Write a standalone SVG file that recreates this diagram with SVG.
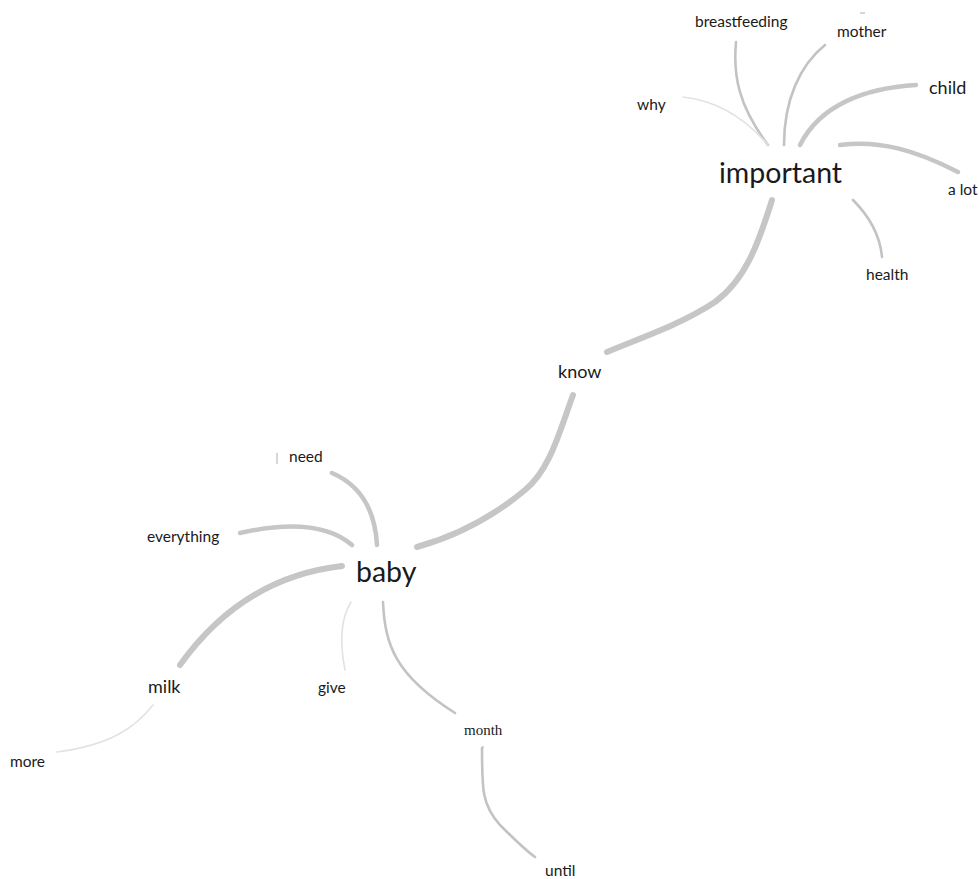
<svg xmlns="http://www.w3.org/2000/svg" width="979" height="879" viewBox="0 0 979 879">
<style>
.e{fill:none;stroke-linecap:round}
.t1{stroke:#c6c6c6;stroke-width:6}
.t2{stroke:#c6c6c6;stroke-width:4.5}
.t3{stroke:#c3c3c3;stroke-width:2.6}
.t4{stroke:#e2e2e2;stroke-width:1.6}
text{font-family:Lato,"Liberation Sans",sans-serif;fill:#1a1a1a}
.big{font-size:28.5px}
.mid{font-size:18px}
.sm{font-size:15.5px}
.serif{font-family:"Liberation Serif","DejaVu Serif",serif;font-size:15px}
</style>
<rect width="979" height="879" fill="#ffffff"/>
<g id="connectors">
<path class="e t3" d="M736,42 C733,75 738,105 768,145"/>
<path class="e t4" d="M683,97 C710,100 740,112 768,145"/>
<path class="e t3" d="M825,45 C800,65 784,100 784,145"/>
<path class="e t2" d="M916,85 C865,88 820,105 800,145"/>
<path class="e t2" d="M840,145 C880,140 915,150 958,172"/>
<path class="e t3" d="M853,200 C868,215 880,235 882,257"/>
<path class="e t1" d="M772,200 C758,245 745,280 715,302 C680,325 640,338 607,352"/>
<path class="e t1" d="M573,395 C560,430 550,470 525,490 C495,515 460,535 417,547"/>
<path class="e t2" d="M332,473 C360,485 375,510 377,545"/>
<path class="e t2" d="M240,533 C280,524 325,522 352,545"/>
<path class="e t1" d="M342,566 C290,572 230,595 180,665"/>
<path class="e t4" d="M153,705 C135,728 110,745 57,752"/>
<path class="e t4" d="M351,602 C340,620 340,645 345,670"/>
<path class="e t3" d="M383,602 C385,645 395,675 455,713"/>
<path class="e t3" d="M482,748 C482,790 482,805 500,825 C515,840 525,850 535,857"/>
</g>
<g id="marks" stroke="#bdbdbd" stroke-width="1.2">
<line x1="860" y1="13" x2="865" y2="13"/>
<line x1="277" y1="453" x2="277" y2="464"/>
<line x1="483" y1="746" x2="483" y2="748"/>
</g>
<g id="node-important"><text class="big" x="719" y="183">important</text></g>
<g id="node-breastfeeding"><text class="sm" x="695" y="27">breastfeeding</text></g>
<g id="node-mother"><text class="sm" x="837" y="37">mother</text></g>
<g id="node-child"><text class="mid" x="929" y="94">child</text></g>
<g id="node-why"><text class="sm" x="637" y="110">why</text></g>
<g id="node-alot"><text class="sm" x="948" y="195">a lot</text></g>
<g id="node-health"><text class="sm" x="866" y="280">health</text></g>
<g id="node-know"><text class="mid" x="558" y="378">know</text></g>
<g id="node-baby"><text class="big" x="356" y="582">baby</text></g>
<g id="node-need"><text class="sm" x="289" y="462">need</text></g>
<g id="node-everything"><text class="sm" x="147" y="542">everything</text></g>
<g id="node-milk"><text class="mid" x="148" y="693">milk</text></g>
<g id="node-more"><text class="sm" x="10" y="767">more</text></g>
<g id="node-give"><text class="sm" x="318" y="693">give</text></g>
<g id="node-month"><text class="serif" x="464" y="735">month</text></g>
<g id="node-until"><text class="sm" x="545" y="876">until</text></g>
</svg>
